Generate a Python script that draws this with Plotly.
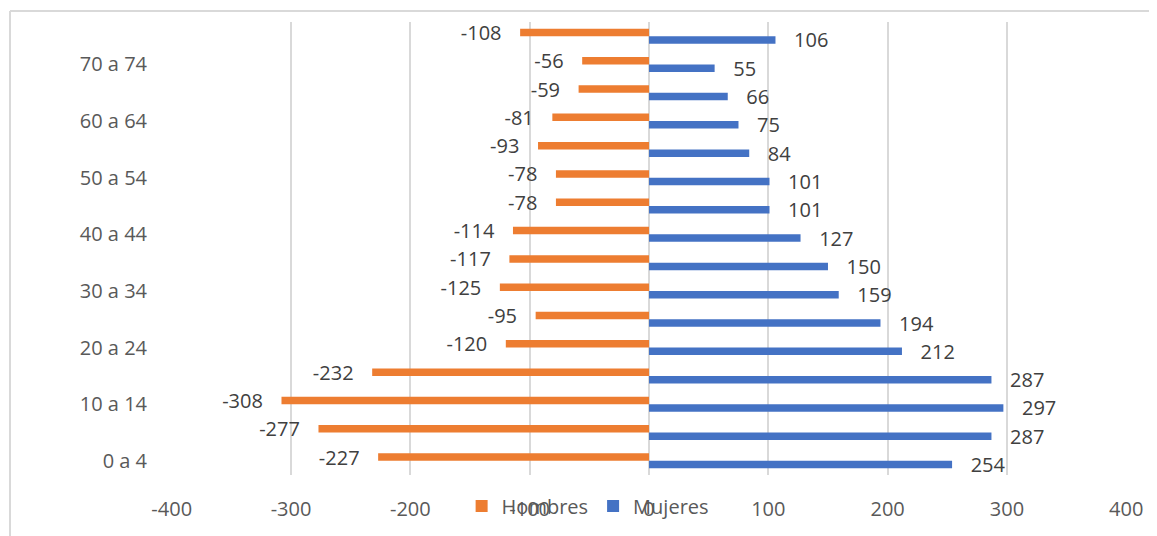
import plotly.graph_objects as go

categories = ["0 a 4", "5 a 9", "10 a 14", "15 a 19", "20 a 24", "25 a 29", "30 a 34",
              "35 a 39", "40 a 44", "45 a 49", "50 a 54", "55 a 59", "60 a 64",
              "65 a 69", "70 a 74", "75 y más"]
hombres = [-227, -277, -308, -232, -120, -95, -125, -117, -114, -78, -78, -93, -81, -59, -56, -108]
mujeres = [254, 287, 297, 287, 212, 194, 159, 150, 127, 101, 101, 84, 75, 66, 55, 106]
x_ticks = [-400, -300, -200, -100, 0, 100, 200, 300, 400]
x_tick_labels = ["-400", "-300", "-200", "-100", "0", "100", "200", "300", "400"]
y_tick_labels = categories[0::2]

ORANGE = "#ED7D31"
BLUE = "#4472C4"
FONT = "Open Sans"
NB = "\u00a0"

fig = go.Figure()
fig.add_trace(go.Bar(
    y=categories, x=mujeres, orientation="h", name="Mujeres",
    marker=dict(color=BLUE, line=dict(width=0)),
    text=[NB * 3 + str(v) for v in mujeres], textposition="outside",
    constraintext="none", cliponaxis=False,
    textfont=dict(family=FONT, size=20, color="#404040"),
    legendrank=2,
))
fig.add_trace(go.Bar(
    y=categories, x=hombres, orientation="h", name="Hombres",
    marker=dict(color=ORANGE, line=dict(width=0)),
    text=[str(v) + NB * 3 for v in hombres], textposition="outside",
    constraintext="none", cliponaxis=False,
    textfont=dict(family=FONT, size=20, color="#404040"),
    legendrank=1,
))

fig.update_layout(
    width=1149, height=528,
    margin=dict(l=163, r=30, t=14, b=60),
    paper_bgcolor="white", plot_bgcolor="white",
    barmode="group", bargap=0.47, bargroupgap=0,
    font=dict(family=FONT, size=20, color="#595959"),
    showlegend=True,
    legend=dict(orientation="h", x=0.304, xanchor="left", y=-0.066, yanchor="middle",
                font=dict(family=FONT, size=20, color="#595959"),
                bgcolor="rgba(0,0,0,0)", itemwidth=30, tracegroupgap=0),
    xaxis=dict(range=[-400.6, 400.6], tickvals=x_ticks, ticktext=x_tick_labels,
               showgrid=True, gridcolor="#D9D9D9", gridwidth=1.5,
               zeroline=True, zerolinecolor="#D9D9D9", zerolinewidth=1.5,
               showline=False, ticks="", ticklabelstandoff=20,
               tickfont=dict(family=FONT, size=20, color="#595959")),
    yaxis=dict(type="category", categoryorder="array", categoryarray=categories,
               range=[-0.5, len(categories) - 0.5],
               tickvals=y_tick_labels, ticktext=y_tick_labels,
               showgrid=False, zeroline=False, showline=False, ticks="",
               ticklabelstandoff=23,
               tickfont=dict(family=FONT, size=20, color="#595959")),
    shapes=[
        dict(type="line", xref="paper", yref="paper", x0=-0.1684, x1=1.2, y0=1.0242, y1=1.0242,
             line=dict(color="#D9D9D9", width=2)),
        dict(type="line", xref="paper", yref="paper", x0=-0.1684, x1=-0.1684, y0=-0.3, y1=1.0242,
             line=dict(color="#D9D9D9", width=2)),
    ],
)

fig.write_html("out.html")
